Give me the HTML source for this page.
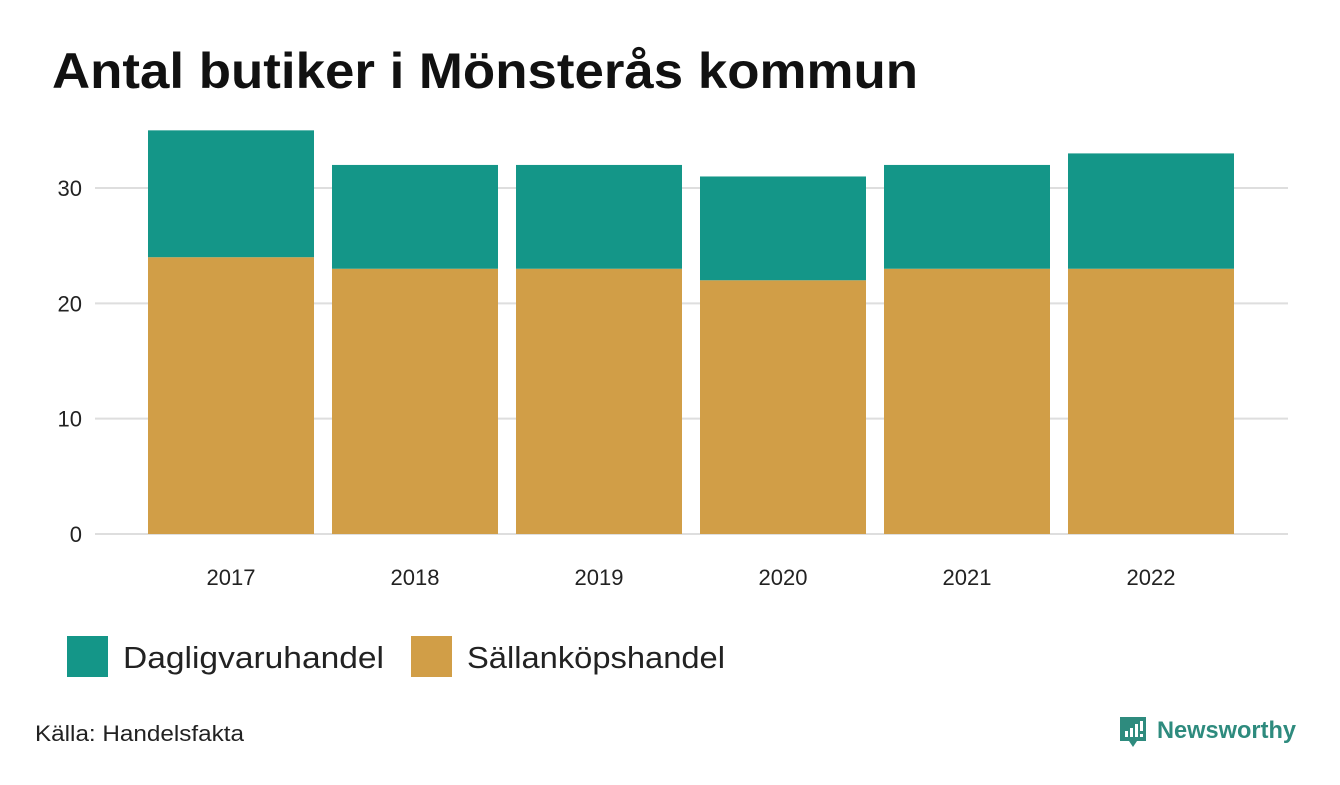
<!DOCTYPE html>
<html><head><meta charset="utf-8">
<style>
body{margin:0;background:#fff;width:1340px;height:780px;overflow:hidden;font-family:"Liberation Sans",sans-serif;}
</style></head>
<body>
<svg id="chart" width="1340" height="780">
<text x="52" y="88" font-size="50" font-weight="bold" fill="#111" textLength="866" lengthAdjust="spacingAndGlyphs">Antal butiker i Mönsterås kommun</text>
<g id="grid"></g>
<g id="bars"></g>
<g id="xlabels"></g>
<g>
<rect x="67" y="636" width="41" height="41" fill="#149688"/>
<text x="123" y="668" font-size="31" fill="#222" textLength="261" lengthAdjust="spacingAndGlyphs">Dagligvaruhandel</text>
<rect x="411" y="636" width="41" height="41" fill="#d19e47"/>
<text x="467" y="668" font-size="31" fill="#222" textLength="258" lengthAdjust="spacingAndGlyphs">Sällanköpshandel</text>
</g>
<text x="35" y="741" font-size="22" fill="#222" textLength="209" lengthAdjust="spacingAndGlyphs">Källa: Handelsfakta</text>
<g>
<path d="M1120 717h26v24h-9l-4 6l-4-6h-9z" fill="#2e8b7e"/>
<rect x="1125" y="731" width="3" height="6" fill="#fff"/><rect x="1130" y="728" width="3" height="9" fill="#fff"/><rect x="1135" y="724" width="3" height="13" fill="#fff"/><rect x="1140" y="721" width="3" height="10" fill="#fff"/><rect x="1140" y="734" width="3" height="3" fill="#fff"/>
<text x="1157" y="738" font-size="24" font-weight="bold" fill="#2e8b7e" textLength="139" lengthAdjust="spacingAndGlyphs">Newsworthy</text>
</g>
</svg>
<script>
const years=["2017","2018","2019","2020","2021","2022"];
const sallan=[24,23,23,22,23,23];
const dagligvaru=[11,9,9,9,9,10];
const yTicks=[0,10,20,30];
const NS="http://www.w3.org/2000/svg";
const y0=534, pxPerUnit=11.533;
function yScale(v){return y0-v*pxPerUnit;}
function xScale(i){return 148+i*184;}
const bw=166;
function mk(tag,attrs,parent){const e=document.createElementNS(NS,tag);for(const k in attrs)e.setAttribute(k,attrs[k]);parent.appendChild(e);return e;}
const grid=document.getElementById('grid');
yTicks.forEach(t=>{
  const l=mk('line',{x1:95,x2:1288,y1:yScale(t),y2:yScale(t),stroke:'#dedede','stroke-width':2},grid);
  
  
  const tx=mk('text',{x:82,y:yScale(t)+8,'text-anchor':'end','font-size':22,fill:'#222'},grid);
  tx.textContent=t;
  
  
});
const bars=document.getElementById('bars'),xl=document.getElementById('xlabels');
years.forEach((yr,i)=>{
  const x=xScale(i);
  const a=mk('rect',{x:x,y:yScale(sallan[i]),width:bw,height:yScale(0)-yScale(sallan[i]),fill:'#d19e47'},bars);
  
  
  const top=sallan[i]+dagligvaru[i];
  const b=mk('rect',{x:x,y:yScale(top),width:bw,height:yScale(sallan[i])-yScale(top),fill:'#149688'},bars);
  
  
  const t=mk('text',{x:x+bw/2,y:585,'text-anchor':'middle','font-size':22,fill:'#222'},xl);
  t.textContent=yr;
  
  
});
</script>
</body></html>
